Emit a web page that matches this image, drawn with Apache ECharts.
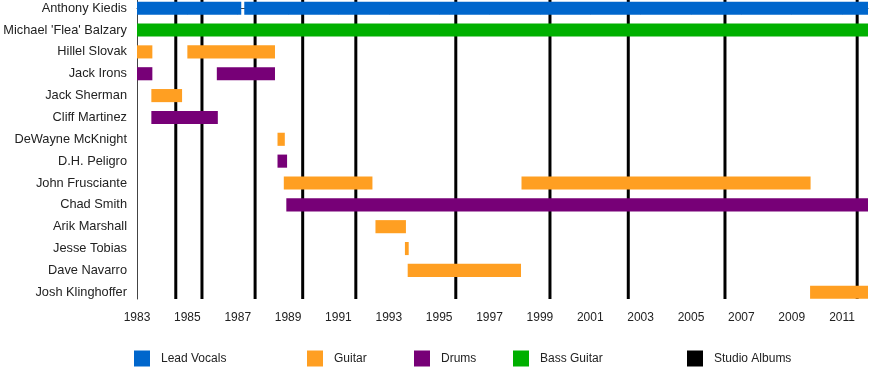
<!DOCTYPE html>
<html>
<head>
<meta charset="utf-8">
<script src="https://cdn.jsdelivr.net/npm/echarts@6/dist/echarts.min.js"></script>
<style>
html,body{margin:0;padding:0;background:#fff;}
#chart{width:892px;height:373px;}
</style>
</head>
<body>
<div id="chart"></div>
<script>
// ---- data ----
const members = ["Anthony Kiedis", "Michael 'Flea' Balzary", "Hillel Slovak", "Jack Irons", "Jack Sherman",
  "Cliff Martinez", "DeWayne McKnight", "D.H. Peligro", "John Frusciante", "Chad Smith",
  "Arik Marshall", "Jesse Tobias", "Dave Navarro", "Josh Klinghoffer"];
const yearTicks = [1983, 1985, 1987, 1989, 1991, 1993, 1995, 1997, 1999, 2001, 2003, 2005, 2007, 2009, 2011];
// [member index, start year, end year]
const vocals = [[0, 1983, 1987.14], [0, 1987.26, 2012.03]];
const guitar = [[2, 1983, 1983.61], [2, 1985.0, 1988.48], [4, 1983.57, 1984.79], [6, 1988.58, 1988.87],
  [8, 1988.83, 1992.35], [8, 1998.27, 2009.75], [10, 1992.47, 1993.68], [11, 1993.64, 1993.79],
  [12, 1993.75, 1998.25], [13, 2009.73, 2012.03]];
const drums = [[3, 1983, 1983.61], [3, 1986.17, 1988.48], [5, 1983.57, 1986.21], [7, 1988.58, 1988.96],
  [9, 1988.93, 2012.03]];
const bass = [[1, 1983, 2012.03]];
const albums = [1984.54, 1985.58, 1987.69, 1989.58, 1991.69, 1995.66, 1999.40, 2002.51, 2006.35, 2011.60];

// ---- chart ----
const FONT = '"Liberation Sans", Arial, sans-serif';
const chart = echarts.init(document.getElementById('chart'), null, {renderer: 'canvas'});

function barRender(params, api) {
  const y = api.value(0);
  const s = api.coord([api.value(1), y]);
  const e = api.coord([api.value(2), y]);
  const h = api.size([0, 1])[1] * 0.6;
  return {type: 'rect', shape: {x: s[0], y: s[1] - h / 2, width: e[0] - s[0], height: h}, style: api.style()};
}
function barSeries(name, data, color) {
  return {
    name: name, type: 'custom', renderItem: barRender, z: 3,
    itemStyle: {color: color},
    encode: {x: [1, 2], y: 0},
    data: data
  };
}
function legend(name, left) {
  return {
    data: [{name: name, icon: 'rect'}], left: left, top: 350.5, padding: 0,
    itemWidth: 16, itemHeight: 16, selectedMode: false,
    textStyle: {fontSize: 12, color: '#222', fontFamily: FONT, padding: [0, 0, 0, 6]}
  };
}

chart.setOption({
  animation: false,
  backgroundColor: '#fff',
  textStyle: {fontFamily: FONT},
  grid: {left: 137, right: 24, top: 0, bottom: 74},
  xAxis: {
    type: 'value', min: 1983, max: 2012.03,
    splitLine: {show: false},
    axisLine: {show: true, lineStyle: {color: '#444', width: 1}},
    axisTick: {show: true, length: 6, lineStyle: {color: '#444'}, customValues: yearTicks},
    axisLabel: {fontSize: 12, color: '#222', fontFamily: FONT, margin: 13, customValues: yearTicks,
      formatter: v => String(v)}
  },
  yAxis: {
    type: 'value', inverse: true, min: -0.375, max: 13.31,
    splitLine: {show: false},
    axisLine: {show: true, lineStyle: {color: '#444', width: 1}},
    axisTick: {show: false},
    axisLabel: {fontSize: 12.8, color: '#222', fontFamily: FONT, margin: 10,
      customValues: members.map((m, i) => i),
      formatter: v => members[Math.round(v)] || ''}
  },
  legend: [legend('Lead Vocals', 134), legend('Guitar', 307), legend('Drums', 414),
    legend('Bass Guitar', 513), legend('Studio Albums', 687)],
  series: [
    {
      name: 'Studio Albums', type: 'custom', z: 1,
      itemStyle: {color: '#000'},
      encode: {x: 0},
      renderItem: function (params, api) {
        const p = api.coord([api.value(0), 0]);
        const cs = params.coordSys;
        return {type: 'line', shape: {x1: p[0], y1: cs.y, x2: p[0], y2: cs.y + cs.height},
          style: {stroke: '#000', lineWidth: 3}};
      },
      data: albums.map(a => [a])
    },
    barSeries('Lead Vocals', vocals, '#0066CC'),
    barSeries('Guitar', guitar, '#FF9F22'),
    barSeries('Drums', drums, '#770077'),
    barSeries('Bass Guitar', bass, '#00B000')
  ]
});
</script>
</body>
</html>
